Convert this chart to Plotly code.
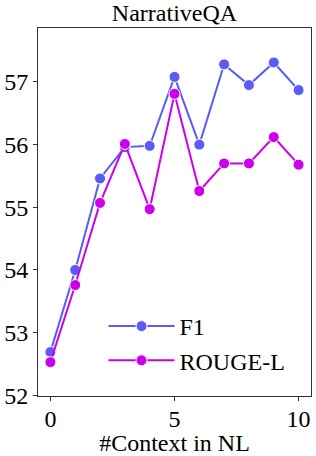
import plotly.graph_objects as go

x_vals = [0, 1, 2, 3, 4, 5, 6, 7, 8, 9, 10]
f1 = [52.69, 54.0, 55.46, 55.96, 55.98, 57.08, 56.0, 57.28, 56.95, 57.31, 56.87]
rouge_l = [52.53, 53.76, 55.07, 56.01, 54.97, 56.81, 55.26, 55.70, 55.70, 56.12, 55.68]

FONT = "Liberation Serif"
FS = 24
fig = go.Figure()
fig.add_trace(go.Scatter(x=x_vals, y=f1, mode="lines+markers", name="F1", legendgroup="a",
                         line=dict(color="#5b5bf7", width=2),
                         marker=dict(size=11, color="#5b5bf7", line=dict(color="white", width=1))))
fig.add_trace(go.Scatter(x=x_vals, y=rouge_l, mode="lines+markers", name="ROUGE-L", legendgroup="b",
                         line=dict(color="#cc00ee", width=2),
                         marker=dict(size=11, color="#cc00ee", line=dict(color="white", width=1))))

fig.update_layout(
    width=316, height=456,
    margin=dict(l=35, r=4, t=28, b=58),
    paper_bgcolor="white", plot_bgcolor="white",
    font=dict(family=FONT, size=FS, color="black"),
    title=dict(text="NarrativeQA", xref="paper", x=0.5, xanchor="center", y=0.972, yanchor="middle",
               font=dict(family=FONT, size=FS, color="black")),
    showlegend=True,
    legend=dict(x=0.24, y=0.25, xanchor="left", yanchor="top", bgcolor="rgba(0,0,0,0)",
                font=dict(family=FONT, size=FS), itemwidth=66, tracegroupgap=0),
)
fig.update_xaxes(range=[-0.5, 10.5], tickvals=[0, 5, 10], showgrid=False, zeroline=False,
                 showline=True, linecolor="#333", linewidth=1, mirror=True,
                 ticks="outside", ticklen=4, tickcolor="#333", ticklabelstandoff=-3,
                 tickfont=dict(family=FONT, size=FS),
                 title=dict(text="#Context in NL", font=dict(family=FONT, size=FS), standoff=3))
fig.update_yaxes(range=[51.99, 57.86], tickvals=[52, 53, 54, 55, 56, 57], showgrid=False, zeroline=False,
                 showline=True, linecolor="#333", linewidth=1, mirror=True,
                 ticks="outside", ticklen=4, tickcolor="#333",
                 tickfont=dict(family=FONT, size=FS))

fig.write_html("out.html", config={"displayModeBar": False},
               post_script="document.body.style.margin='0';")
